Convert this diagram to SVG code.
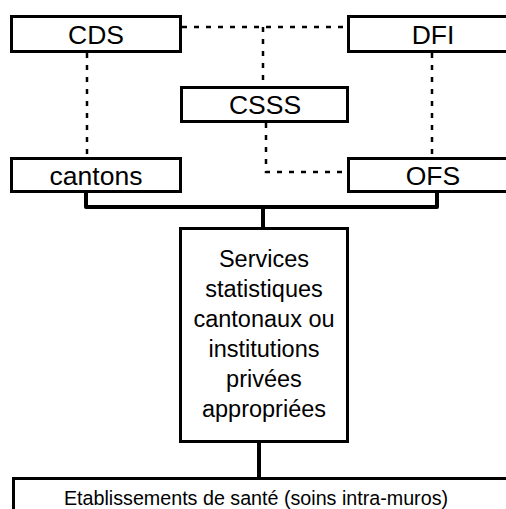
<svg xmlns="http://www.w3.org/2000/svg" width="506" height="509" viewBox="0 0 506 509">
<style>
.box{fill:#fff;stroke:#000;stroke-width:3}
.lbl{font-family:"Liberation Sans",Arial,sans-serif;font-size:26.5px;fill:#000;text-anchor:middle}
.svc{font-family:"Liberation Sans",Arial,sans-serif;font-size:23.5px;fill:#000;text-anchor:middle}
.bot{font-family:"Liberation Sans",Arial,sans-serif;font-size:19.7px;fill:#000;text-anchor:middle}
.dash{fill:none;stroke:#000;stroke-width:2.5;stroke-dasharray:5 7}
.solid{fill:none;stroke:#000;stroke-width:4;stroke-linejoin:round}
</style>
<rect width="506" height="509" fill="#fff"/>
<g id="connectors">
<path class="dash" d="M182,27 H347"/>
<path class="dash" d="M263,27 V86"/>
<path class="dash" d="M87,53 V157"/>
<path class="dash" d="M432,53 V157"/>
<path class="dash" d="M266,123 V172 H347"/>
<path class="solid" d="M86,193 V207 H437 V193"/>
<path class="solid" d="M263,207 V227"/>
<path class="solid" d="M259,443 V477"/>
</g>
<g id="CDS"><rect class="box" x="11.5" y="16.5" width="169" height="35"/><text class="lbl" x="96" y="43.5">CDS</text></g>
<g id="DFI"><rect class="box" x="348.5" y="16.5" width="169" height="35"/><text class="lbl" x="433" y="43.5">DFI</text></g>
<g id="CSSS"><rect class="box" x="181.5" y="87.5" width="166" height="34"/><text class="lbl" x="265" y="113.5">CSSS</text></g>
<g id="cantons"><rect class="box" x="11.5" y="158.5" width="169" height="33"/><text class="lbl" x="96" y="185">cantons</text></g>
<g id="OFS"><rect class="box" x="348.5" y="158.5" width="169" height="33"/><text class="lbl" x="433" y="185">OFS</text></g>
<g id="services"><rect class="box" x="180.5" y="228.5" width="167" height="213"/>
<text class="svc" x="264" y="267">Services</text>
<text class="svc" x="264" y="297">statistiques</text>
<text class="svc" x="264" y="327">cantonaux ou</text>
<text class="svc" x="264" y="357">institutions</text>
<text class="svc" x="264" y="387">privées</text>
<text class="svc" x="264" y="417">appropriées</text>
</g>
<g id="etablissements"><rect class="box" x="13.5" y="478.5" width="500" height="40"/><text class="bot" x="256" y="505">Etablissements de santé (soins intra-muros)</text></g>
</svg>
